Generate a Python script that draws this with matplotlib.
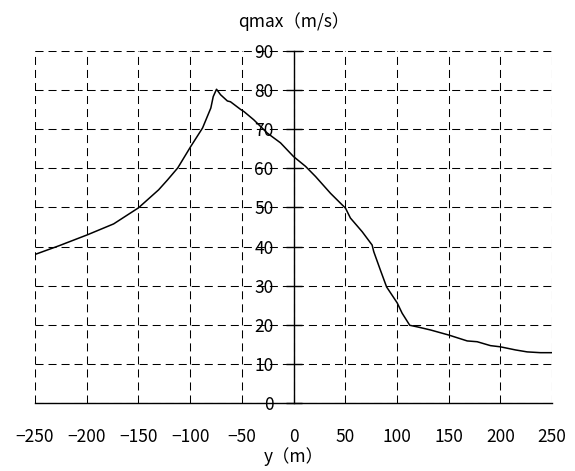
import matplotlib
matplotlib.use("Agg")
import matplotlib.pyplot as plt

plt.rcParams['font.family'] = ['Noto Sans CJK JP', 'DejaVu Sans']

# courbe qmax
y_pos = [-250, -227, -199.5, -174, -150, -130.5, -122, -112, -99.6, -88, -80, -77.7,
         -74.5, -70.6, -64, -61, -51, -48, -38.5, -25.4, -12.6, 0, 11.6, 21.3, 35.8,
         50.3, 55, 66.4, 76, 77.6, 84, 90, 100.3, 105, 112.4, 119.6, 132.5, 150.2,
         168, 177.6, 190.5, 200, 214.7, 226, 238.9, 250]
qmax = [38, 40.2, 43, 45.8, 49.9, 54.5, 57, 60.1, 65.5, 70.3, 75.4, 78.3,
        80.2, 78.8, 77.2, 77, 75, 74.5, 72.4, 69, 66.5, 63, 60.5, 57.9, 53.6,
        49.8, 47.3, 43.8, 40.4, 38.7, 34, 29.7, 25.6, 23, 19.9, 19.5, 18.7, 17.4,
        15.9, 15.7, 14.7, 14.4, 13.6, 13.1, 12.9, 12.9]

xticks = list(range(-250, 251, 50))
yticks = list(range(0, 91, 10))

fig = plt.figure(figsize=(5.75, 4.71), dpi=100)
ax = fig.add_axes([0.061, 0.144, 0.899, 0.748])

ax.plot(y_pos, qmax, color='black', linewidth=1.1)

ax.set_xlim(-250, 250)
ax.set_ylim(0, 90)
ax.set_xticks(xticks)
ax.set_yticks(yticks)

# grille en tirets, elle sert aussi de cadre
ax.grid(True, color='black', linestyle=(0, (7.7, 4.8)), linewidth=0.75)
ax.set_axisbelow(True)

for s in ['top', 'right']:
    ax.spines[s].set_visible(False)
ax.spines['left'].set_position(('data', 0))
ax.spines['left'].set_linewidth(1.0)
ax.spines['bottom'].set_linewidth(1.0)

ax.tick_params(axis='y', direction='inout', length=11, width=1.0, pad=9, labelsize=12.5)
ax.tick_params(axis='x', length=0, pad=18, labelsize=12.5)

ax.set_xlabel('y（m）', fontsize=12.5, labelpad=1)
ax.set_title('qmax（m/s）', fontsize=12.5, pad=17)

fig.savefig('out.png', dpi=100)
